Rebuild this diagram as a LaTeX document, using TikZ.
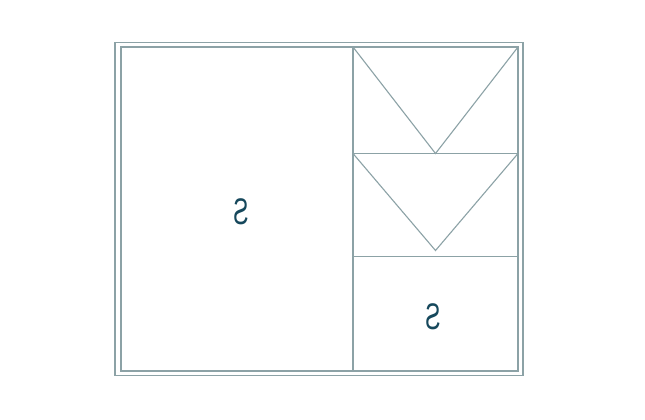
\documentclass[tikz,border=0pt]{standalone}
\usepackage{fontspec}
\setmainfont{Liberation Sans}
\definecolor{linec}{RGB}{140,162,166}
\definecolor{textc}{RGB}{22,72,92}
\begin{document}
\begin{tikzpicture}[x=1pt,y=-1pt,
  frame/.style={draw=linec, line width=1.1pt},
  lbl/.style={text=textc, font=\fontsize{37}{37}\selectfont, inner sep=0pt}]
\useasboundingbox (0,0) rectangle (645,420);
\fill[white] (0,0) rectangle (645,420);
% outer and inner frames
\coordinate (o1) at (115,42.5);
\coordinate (o2) at (523,375.5);
\coordinate (i1) at (121,47);
\coordinate (i2) at (518,371);
\draw[frame] (o1) rectangle (o2);
\draw[frame] (i1) rectangle (i2);
% divider and right panels
\coordinate (dT) at (353,47);
\coordinate (dB) at (353,371);
\draw[frame] (dT) -- (dB);
\coordinate (h1L) at (353,153.5);
\coordinate (h1R) at (518,153.5);
\coordinate (h2L) at (353,256.5);
\coordinate (h2R) at (518,256.5);
\draw[frame] (h1L) -- (h1R);
\draw[frame] (h2L) -- (h2R);
% triangles
\coordinate (tA) at (518,47);
\coordinate (ap1) at (435.5,153.5);
\coordinate (ap2) at (435.5,250.5);
\draw[frame] (dT) -- (ap1) -- (tA);
\draw[frame] (h1L) -- (ap2) -- (h1R);
% labels
\node[lbl] (sL) at (241,212) {\scalebox{-0.62}[1]{S}};
\node[lbl] (sR) at (433,317) {\scalebox{-0.62}[1]{S}};
\end{tikzpicture}
\end{document}
